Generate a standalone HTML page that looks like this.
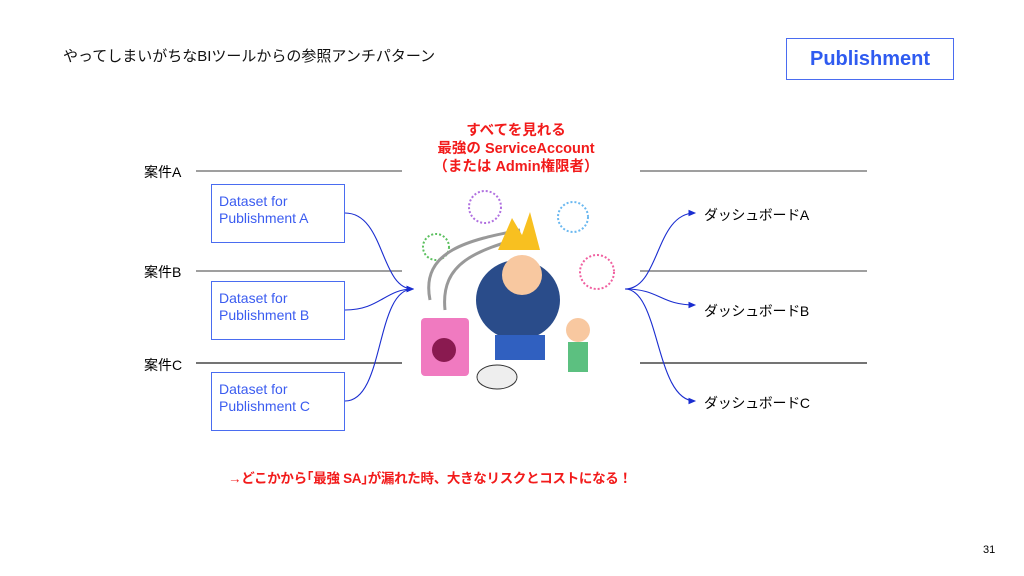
<!DOCTYPE html>
<html><head><meta charset="utf-8"><style>
body{margin:0;width:1024px;height:576px;background:#fff;position:relative;overflow:hidden;font-family:"Liberation Sans","Noto Sans CJK JP",sans-serif}
.a{position:absolute;white-space:nowrap}
.box{position:absolute;border:1px solid #4a6cf0;color:#3b5cf0;font-size:14px;line-height:17px;padding:8px 7px;box-sizing:border-box;width:134px;height:59px}
</style></head><body>
<div class="a" style="left:63px;top:45px;font-size:15px;color:#111">やってしまいがちなBIツールからの参照アンチパターン</div>
<div class="a" style="left:786px;top:38px;width:168px;height:42px;border:1px solid #4a6cf0;box-sizing:border-box;text-align:center;line-height:40px;font-size:20px;font-weight:bold;color:#2f5bf0">Publishment</div>
<div class="a" style="left:396px;top:122px;width:240px;text-align:center;color:#f21b1b;font-weight:bold;font-size:14.5px;line-height:18px">すべてを見れる<br>最強の ServiceAccount<br>（または Admin権限者）</div>
<div class="a" style="left:144px;top:162px;font-size:14px">案件A</div>
<div class="a" style="left:144px;top:262px;font-size:14px">案件B</div>
<div class="a" style="left:144px;top:355px;font-size:14px">案件C</div>
<div class="box" style="left:211px;top:184px">Dataset for<br>Publishment A</div>
<div class="box" style="left:211px;top:281px">Dataset for<br>Publishment B</div>
<div class="box" style="left:211px;top:372px">Dataset for<br>Publishment C</div>
<div class="a" style="left:704px;top:205px;font-size:14px;letter-spacing:-0.3px">ダッシュボードA</div>
<div class="a" style="left:704px;top:301px;font-size:14px;letter-spacing:-0.3px">ダッシュボードB</div>
<div class="a" style="left:704px;top:393px;font-size:14px;letter-spacing:-0.3px">ダッシュボードC</div>
<div class="a" style="left:228px;top:467px;font-size:13.5px;font-weight:bold;color:#f21b1b;letter-spacing:-0.3px">→どこかから｢最強 SA｣が漏れた時、大きなリスクとコストになる！</div>
<div class="a" style="left:983px;top:544px;font-size:11px">31</div>
<svg width="1024" height="576" style="position:absolute;left:0;top:0">
<defs><marker id="m" markerWidth="8" markerHeight="8" refX="6" refY="3" orient="auto"><path d="M0,0L7,3L0,6z" fill="#1a2dd0"/></marker></defs>
<g stroke="#666" stroke-width="1.2">
<line x1="196" y1="171" x2="402" y2="171"/><line x1="196" y1="271" x2="402" y2="271"/><line x1="196" y1="363" x2="402" y2="363" stroke="#222"/>
<line x1="640" y1="171" x2="867" y2="171"/><line x1="640" y1="271" x2="867" y2="271"/><line x1="640" y1="363" x2="867" y2="363" stroke="#222"/>
</g>
<g fill="none" stroke="#1a2dd0" stroke-width="1.1">
<path d="M345,213 C385,213 380,289 413,289" marker-end="url(#m)"/>
<path d="M345,310 C380,310 385,289 413,289" marker-end="url(#m)"/>
<path d="M345,401 C385,401 375,289 413,289" marker-end="url(#m)"/>
<path d="M625,289 C660,289 655,213 695,213" marker-end="url(#m)"/>
<path d="M625,289 C660,289 660,305 695,305" marker-end="url(#m)"/>
<path d="M625,289 C660,289 655,401 695,401" marker-end="url(#m)"/>
</g>
<g>
<circle cx="485" cy="207" r="16" fill="none" stroke="#b070e0" stroke-width="2" stroke-dasharray="2 2"/>
<circle cx="573" cy="217" r="15" fill="none" stroke="#6ab8f0" stroke-width="2" stroke-dasharray="2 2"/>
<circle cx="436" cy="247" r="13" fill="none" stroke="#5cc060" stroke-width="2" stroke-dasharray="2 2"/>
<circle cx="597" cy="272" r="17" fill="none" stroke="#f060a0" stroke-width="2" stroke-dasharray="2 2"/>
<path d="M430,300 C420,250 470,240 520,230" stroke="#999" stroke-width="3" fill="none"/>
<path d="M445,310 C440,260 480,250 530,235" stroke="#999" stroke-width="3" fill="none"/>
<rect x="421" y="318" width="48" height="58" rx="4" fill="#f07ac0"/>
<circle cx="444" cy="350" r="12" fill="#8a1a50"/>
<path d="M498,250 L512,218 L522,235 L530,212 L540,250z" fill="#f8c020"/>
<ellipse cx="518" cy="300" rx="42" ry="40" fill="#2a4c8a"/>
<circle cx="522" cy="275" r="20" fill="#f8c8a0"/>
<rect x="495" y="335" width="50" height="25" fill="#3060c0"/>
<ellipse cx="497" cy="377" rx="20" ry="12" fill="#eee" stroke="#333"/>
<circle cx="578" cy="330" r="12" fill="#f8c8a0"/>
<rect x="568" y="342" width="20" height="30" fill="#5cc080"/>
</g>
</svg>
</body></html>
